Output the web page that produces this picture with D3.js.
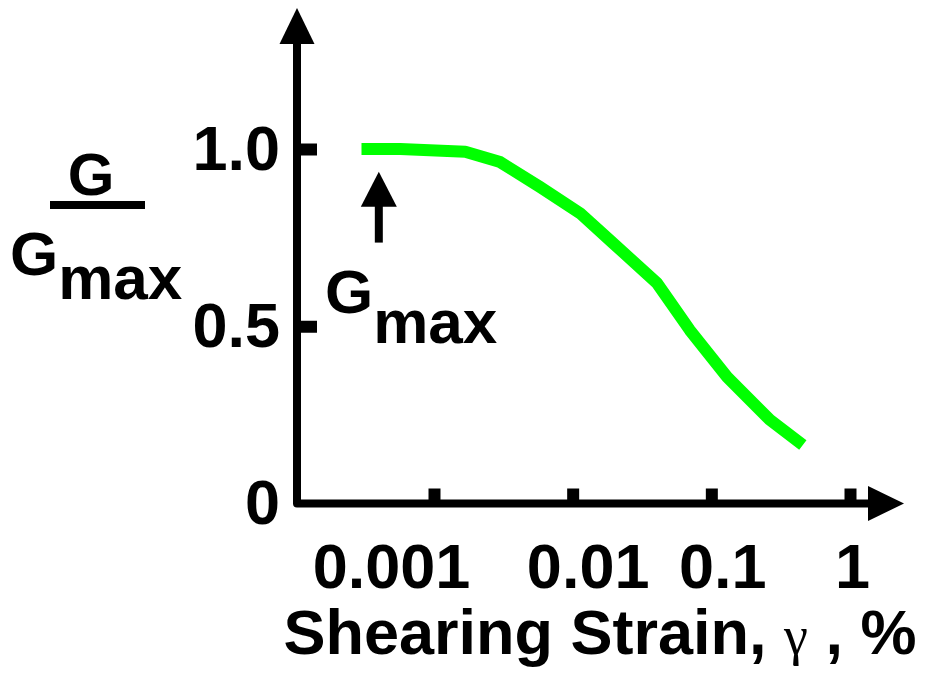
<!DOCTYPE html>
<html>
<head>
<meta charset="utf-8">
<script src="https://cdn.jsdelivr.net/npm/d3@7"></script>
<style>
  html, body { margin: 0; padding: 0; background: #fff; }
  svg { display: block; font-family: "Liberation Sans", Arial, sans-serif; font-weight: bold; }
</style>
</head>
<body>
<div id="chart"></div>
<script>
// Modulus reduction curve
const strain = [0.0003, 0.00057, 0.00168, 0.0030, 0.0058, 0.0113, 0.0195, 0.0405, 0.070, 0.130, 0.264, 0.457];
const ratio  = [1.0, 1.0, 0.992, 0.963, 0.893, 0.819, 0.735, 0.622, 0.489, 0.357, 0.236, 0.165];

const xTicks = [0.001, 0.01, 0.1, 1];
const xTickLabels = ["0.001", "0.01", "0.1", "1"];
const yTicks = [0, 0.5, 1.0];
const yTickLabels = ["0", "0.5", "1.0"];

// Gmax marker: strain where the arrow points, and arrow span in G/Gmax
const gmaxStrain = 0.0004;
const gmaxArrow = [0.936, 0.736];

const W = 925, H = 675;

const svg = d3.select('#chart')
  .append('svg')
  .attr('width', W)
  .attr('height', H);

const x = d3.scaleLog().domain([0.001, 1]).range([434, 850]);
const y = d3.scaleLinear().domain([0, 1]).range([503.5, 149]);

const x0 = 297;            // y axis position
const y0 = y(0);           // x axis position

// Axis lines with arrow heads
svg.append('path')
  .attr('d', `M${x0},40 L${x0},${y0} L872,${y0}`)
  .attr('fill', 'none')
  .attr('stroke', '#000')
  .attr('stroke-width', 8)
  .attr('stroke-linejoin', 'round');

svg.append('path')
  .attr('d', `M${x0},8 L${x0 - 17.5},44 L${x0 + 17.5},44 Z`)
  .attr('fill', '#000');

svg.append('path')
  .attr('d', `M904,${y0} L868,${y0 - 17.5} L868,${y0 + 17.5} Z`)
  .attr('fill', '#000');

// X axis ticks (pointing up) and labels
const labelDx = [-43, 15, 11, 2];
const xAxis = svg.append('g')
  .attr('transform', `translate(0,${y0})`)
  .call(d3.axisBottom(x)
    .tickValues(xTicks)
    .tickFormat((d, i) => xTickLabels[i])
    .tickSizeInner(-15)
    .tickSizeOuter(0)
    .tickPadding(40));
xAxis.select('.domain').remove();
xAxis.selectAll('.tick line').attr('stroke', '#000').attr('stroke-width', 12);
xAxis.selectAll('.tick text')
  .attr('fill', '#000')
  .attr('font-size', 63)
  .attr('font-family', '"Liberation Sans", Arial, sans-serif')
  .attr('font-weight', 'bold')
  .attr('dx', (d, i) => labelDx[i]);

// Y axis ticks (pointing right) and labels
const yAxis = svg.append('g')
  .attr('transform', `translate(${x0},0)`)
  .call(d3.axisLeft(y)
    .tickValues(yTicks)
    .tickFormat((d, i) => yTickLabels[i])
    .tickSizeInner(-20)
    .tickSizeOuter(0)
    .tickPadding(17));
yAxis.select('.domain').remove();
yAxis.selectAll('.tick line')
  .attr('stroke', '#000')
  .attr('stroke-width', 12)
  .attr('display', d => d === 0 ? 'none' : null);
yAxis.selectAll('.tick text')
  .attr('fill', '#000')
  .attr('font-size', 63)
  .attr('font-family', '"Liberation Sans", Arial, sans-serif')
  .attr('font-weight', 'bold');

// Curve
const line = d3.line()
  .x((d, i) => x(strain[i]))
  .y(d => y(d));

svg.append('path')
  .datum(ratio)
  .attr('d', line)
  .attr('fill', 'none')
  .attr('stroke', '#00ff00')
  .attr('stroke-width', 12)
  .attr('stroke-linejoin', 'round');

// Gmax arrow annotation
const ax = x(gmaxStrain);
const aTop = y(gmaxArrow[0]), aBot = y(gmaxArrow[1]);
svg.append('line')
  .attr('x1', ax).attr('x2', ax)
  .attr('y1', aTop + 30).attr('y2', aBot)
  .attr('stroke', '#000')
  .attr('stroke-width', 8);
svg.append('path')
  .attr('d', `M${ax},${aTop} L${ax - 18},${aTop + 35} L${ax + 18},${aTop + 35} Z`)
  .attr('fill', '#000');

const gm = svg.append('text')
  .attr('x', 325)
  .attr('y', 313)
  .attr('font-size', 62);
gm.append('tspan').text('G');
gm.append('tspan').attr('dy', 30).text('max');

// Y axis title: G over Gmax
svg.append('text')
  .attr('x', 91)
  .attr('y', 195)
  .attr('text-anchor', 'middle')
  .attr('font-size', 60)
  .text('G');
svg.append('line')
  .attr('x1', 50).attr('x2', 145)
  .attr('y1', 205).attr('y2', 205)
  .attr('stroke', '#000')
  .attr('stroke-width', 8);
const gt = svg.append('text')
  .attr('x', 10)
  .attr('y', 275)
  .attr('font-size', 62);
gt.append('tspan').text('G');
gt.append('tspan').attr('dy', 24).text('max');

// X axis title
const xt = svg.append('text')
  .attr('x', 600)
  .attr('y', 654)
  .attr('text-anchor', 'middle')
  .attr('font-size', 63);
xt.append('tspan').text('Shearing Strain,\u00a0');
xt.append('tspan')
  .attr('font-family', '"Liberation Serif", "DejaVu Serif", serif')
  .attr('font-weight', 'normal')
  .attr('font-size', 54)
  .text('γ');
xt.append('tspan').text('\u00a0,\u00a0%');
</script>
</body>
</html>
